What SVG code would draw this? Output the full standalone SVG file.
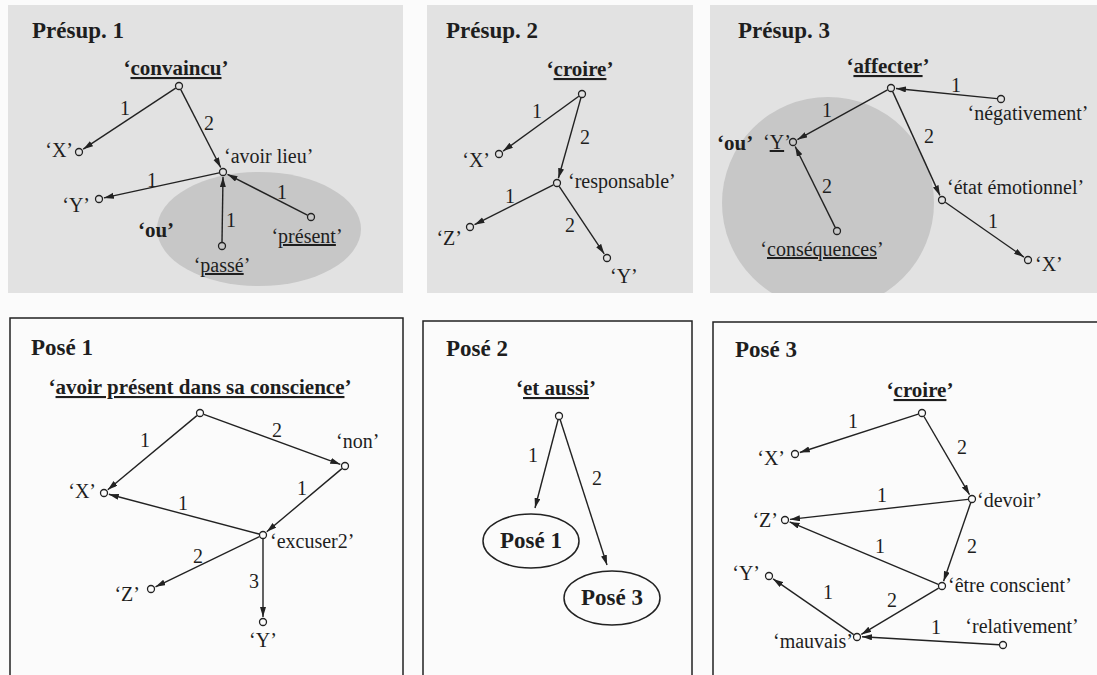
<svg xmlns="http://www.w3.org/2000/svg" width="1097" height="675" viewBox="0 0 1097 675" font-family="Liberation Serif, Times New Roman, serif">
<style>
text{fill:#1e1e1e}
.l{font-size:20px}
.b{font-size:21px;font-weight:bold}
.t{font-size:23px;font-weight:bold}
.n{font-size:20px;text-anchor:middle}
.m{text-anchor:middle}
.e{text-anchor:end}
.u{text-decoration:underline}
.edge{stroke:#222;stroke-width:1.4;fill:none;marker-end:url(#ah)}
.nd{stroke:#222;stroke-width:1.3}
.g1{fill:#e2e2e2}
.g2{fill:#c7c7c7}
.w{fill:#fbfbfb}
.box{fill:#fbfbfb;stroke:#222;stroke-width:1.5}
</style>
<defs>
<marker id="ah" markerUnits="userSpaceOnUse" markerWidth="11" markerHeight="7" refX="10" refY="3" orient="auto">
<path d="M0,0 L10,3 L0,6 z" fill="#222"/>
</marker>
<clipPath id="c3"><rect x="710" y="5" width="387" height="288"/></clipPath>
</defs>
<rect width="1097" height="675" fill="#fbfbfb"/>
<rect x="8" y="5" width="395" height="288" class="g1"/>
<rect x="427" y="5" width="266" height="288" class="g1"/>
<rect x="710" y="5" width="387" height="288" class="g1"/>
<ellipse cx="259" cy="229" rx="102" ry="57" class="g2"/>
<circle cx="828" cy="203" r="106" class="g2" clip-path="url(#c3)"/>
<rect x="10" y="318" width="393" height="370" class="box"/>
<rect x="423" y="321" width="269" height="370" class="box"/>
<rect x="713" y="322" width="400" height="370" class="box"/>
<text x="32" y="38" class="t">Présup. 1</text>
<text x="446" y="38" class="t">Présup. 2</text>
<text x="738" y="38" class="t">Présup. 3</text>
<text x="31" y="355" class="t">Posé 1</text>
<text x="446" y="356" class="t">Posé 2</text>
<text x="735" y="357" class="t">Posé 3</text>
<g id="connectors">
<line class="edge" x1="175.7" y1="88.2" x2="83.2" y2="149.2"/>
<line class="edge" x1="180.8" y1="89.6" x2="220.7" y2="167.5"/>
<line class="edge" x1="219.1" y1="172.9" x2="103.9" y2="197.9"/>
<line class="edge" x1="222" y1="242" x2="223" y2="177"/>
<line class="edge" x1="307.4" y1="215.2" x2="227.5" y2="174.3"/>
<text class="n" x="125" y="115">1</text>
<text class="n" x="209" y="130">2</text>
<text class="n" x="152" y="187">1</text>
<text class="n" x="231" y="227">1</text>
<text class="n" x="282" y="199">1</text>
<line class="edge" x1="578.8" y1="96.3" x2="503.1" y2="151.1"/>
<line class="edge" x1="580.9" y1="97.9" x2="558.4" y2="178.2"/>
<line class="edge" x1="553.4" y1="184.8" x2="474.5" y2="224.7"/>
<line class="edge" x1="559.2" y1="186.3" x2="604.2" y2="253.8"/>
<text class="n" x="537" y="118">1</text>
<text class="n" x="585" y="144">2</text>
<text class="n" x="510" y="203">1</text>
<text class="n" x="570" y="232">2</text>
<line class="edge" x1="887.5" y1="89.9" x2="797.4" y2="139.6"/>
<line class="edge" x1="997" y1="98.6" x2="896" y2="88.5"/>
<line class="edge" x1="892.7" y1="91.6" x2="939.9" y2="195.4"/>
<line class="edge" x1="835.2" y1="227.4" x2="795.2" y2="146.5"/>
<line class="edge" x1="945.3" y1="202.3" x2="1023.9" y2="257.1"/>
<text class="n" x="827" y="117">1</text>
<text class="n" x="956" y="92">1</text>
<text class="n" x="929" y="143">2</text>
<text class="n" x="827" y="193">2</text>
<text class="n" x="993" y="228">1</text>
<line class="edge" x1="196.9" y1="415.6" x2="107.8" y2="489.8"/>
<line class="edge" x1="203.8" y1="414.4" x2="340.3" y2="464.3"/>
<line class="edge" x1="341.9" y1="468.6" x2="266.8" y2="531.8"/>
<line class="edge" x1="259.1" y1="534" x2="108.8" y2="494.3"/>
<line class="edge" x1="259.4" y1="536.7" x2="155.5" y2="586.8"/>
<line class="edge" x1="263" y1="539" x2="263" y2="617"/>
<text class="n" x="145" y="447">1</text>
<text class="n" x="277" y="437">2</text>
<text class="n" x="302" y="495">1</text>
<text class="n" x="183" y="510">1</text>
<text class="n" x="198" y="563">2</text>
<text class="n" x="254" y="588">3</text>
<line class="edge" x1="558" y1="420" x2="535" y2="508"/>
<line class="edge" x1="560.2" y1="419.8" x2="607" y2="565"/>
<text class="n" x="533" y="462">1</text>
<text class="n" x="597" y="485">2</text>
<line class="edge" x1="918.2" y1="414.2" x2="799.8" y2="452.5"/>
<line class="edge" x1="924" y1="416.5" x2="969.5" y2="494.7"/>
<line class="edge" x1="968" y1="499.4" x2="790" y2="519.4"/>
<line class="edge" x1="970.7" y1="502.8" x2="943.6" y2="581.3"/>
<line class="edge" x1="938.3" y1="584.4" x2="789.6" y2="521.9"/>
<line class="edge" x1="938.6" y1="588.1" x2="861.3" y2="634.4"/>
<line class="edge" x1="853.7" y1="634.7" x2="773.1" y2="578.9"/>
<line class="edge" x1="999" y1="644.8" x2="862" y2="636.7"/>
<text class="n" x="853" y="428">1</text>
<text class="n" x="962" y="454">2</text>
<text class="n" x="882" y="502">1</text>
<text class="n" x="972" y="553">2</text>
<text class="n" x="880" y="553">1</text>
<text class="n" x="892" y="607">2</text>
<text class="n" x="828" y="599">1</text>
<text class="n" x="936" y="634">1</text>
</g>
<g id="p1-convaincu"><circle cx="179" cy="86" r="3.5" class="nd g1"/><text x="176" y="75" class="b m">‘<tspan class="u">convaincu</tspan>’</text></g>
<g id="p1-X"><circle cx="79" cy="152" r="3.5" class="nd g1"/><text x="73" y="157" class="l e">‘X’</text></g>
<g id="p1-avoirlieu"><circle cx="223" cy="172" r="3.5" class="nd g1"/><text x="224" y="163" class="l">‘avoir lieu’</text></g>
<g id="p1-Y"><circle cx="99" cy="199" r="3.5" class="nd g1"/><text x="90" y="212" class="l e">‘Y’</text></g>
<g id="p1-passe"><circle cx="222" cy="246" r="3.5" class="nd g2"/><text x="222" y="272" class="l m">‘<tspan class="u">passé</tspan>’</text></g>
<g id="p1-present"><circle cx="311" cy="217" r="3.5" class="nd g2"/><text x="307" y="243" class="l m">‘<tspan class="u">présent</tspan>’</text></g>
<g id="p1-ou"><text x="156" y="237" class="b m">‘ou’</text></g>
<g id="p2-croire"><circle cx="582" cy="94" r="3.5" class="nd g1"/><text x="580" y="76" class="b m">‘<tspan class="u">croire</tspan>’</text></g>
<g id="p2-X"><circle cx="499" cy="154" r="3.5" class="nd g1"/><text x="490" y="167" class="l e">‘X’</text></g>
<g id="p2-responsable"><circle cx="557" cy="183" r="3.5" class="nd g1"/><text x="568" y="188" class="l">‘responsable’</text></g>
<g id="p2-Z"><circle cx="470" cy="227" r="3.5" class="nd g1"/><text x="462" y="245" class="l e">‘Z’</text></g>
<g id="p2-Y"><circle cx="607" cy="258" r="3.5" class="nd g1"/><text x="610" y="283" class="l">‘Y’</text></g>
<g id="p3-affecter"><circle cx="891" cy="88" r="3.5" class="nd g1"/><text x="888" y="73" class="b m">‘<tspan class="u">affecter</tspan>’</text></g>
<g id="p3-negativement"><circle cx="1001" cy="99" r="3.5" class="nd g1"/><text x="1028" y="120" class="l m">‘négativement’</text></g>
<g id="p3-Y"><circle cx="793" cy="142" r="3.5" class="nd g2"/><text x="763" y="149" class="l">‘<tspan class="u">Y</tspan>’</text></g>
<g id="p3-ou"><text x="717" y="150" class="b">‘ou’</text></g>
<g id="p3-consequences"><circle cx="837" cy="231" r="3.5" class="nd g2"/><text x="822" y="256" class="l m">‘<tspan class="u">conséquences</tspan>’</text></g>
<g id="p3-etat"><circle cx="942" cy="200" r="3.5" class="nd g1"/><text x="947" y="194" class="l">‘état émotionnel’</text></g>
<g id="p3-X"><circle cx="1028" cy="260" r="3.5" class="nd g1"/><text x="1035" y="271" class="l">‘X’</text></g>
<g id="q1-avoir"><circle cx="200" cy="413" r="3.5" class="nd w"/><text x="200" y="394" class="b m">‘<tspan class="u">avoir présent dans sa conscience</tspan>’</text></g>
<g id="q1-non"><circle cx="345" cy="466" r="3.5" class="nd w"/><text x="336" y="448" class="l">‘non’</text></g>
<g id="q1-X"><circle cx="104" cy="493" r="3.5" class="nd w"/><text x="96" y="498" class="l e">‘X’</text></g>
<g id="q1-excuser2"><circle cx="263" cy="535" r="3.5" class="nd w"/><text x="270" y="548" class="l">‘excuser2’</text></g>
<g id="q1-Z"><circle cx="151" cy="589" r="3.5" class="nd w"/><text x="140" y="601" class="l e">‘Z’</text></g>
<g id="q1-Y"><circle cx="263" cy="622" r="3.5" class="nd w"/><text x="263" y="647" class="l m">‘Y’</text></g>
<g id="q2-etaussi"><circle cx="559" cy="416" r="3.5" class="nd w"/><text x="556" y="395" class="b m">‘<tspan class="u">et aussi</tspan>’</text></g>
<g id="q2-pose1"><ellipse cx="531" cy="541" rx="48" ry="27" fill="none" stroke="#222" stroke-width="1.5"/><text x="531" y="548" class="t m">Posé 1</text></g>
<g id="q2-pose3"><ellipse cx="612" cy="598" rx="48" ry="27" fill="none" stroke="#222" stroke-width="1.5"/><text x="612" y="605" class="t m">Posé 3</text></g>
<g id="q3-croire"><circle cx="922" cy="413" r="3.5" class="nd w"/><text x="920" y="397" class="b m">‘<tspan class="u">croire</tspan>’</text></g>
<g id="q3-X"><circle cx="795" cy="454" r="3.5" class="nd w"/><text x="785" y="465" class="l e">‘X’</text></g>
<g id="q3-devoir"><circle cx="972" cy="499" r="3.5" class="nd w"/><text x="977" y="507" class="l">‘devoir’</text></g>
<g id="q3-Z"><circle cx="785" cy="520" r="3.5" class="nd w"/><text x="778" y="527" class="l e">‘Z’</text></g>
<g id="q3-etre"><circle cx="942" cy="586" r="3.5" class="nd w"/><text x="948" y="592" class="l">‘être conscient’</text></g>
<g id="q3-Y"><circle cx="769" cy="576" r="3.5" class="nd w"/><text x="760" y="580" class="l e">‘Y’</text></g>
<g id="q3-mauvais"><circle cx="857" cy="637" r="3.5" class="nd w"/><text x="853" y="648" class="l e">‘mauvais’</text></g>
<g id="q3-relativement"><circle cx="1003" cy="645" r="3.5" class="nd w"/><text x="1022" y="633" class="l m">‘relativement’</text></g>
</svg>
